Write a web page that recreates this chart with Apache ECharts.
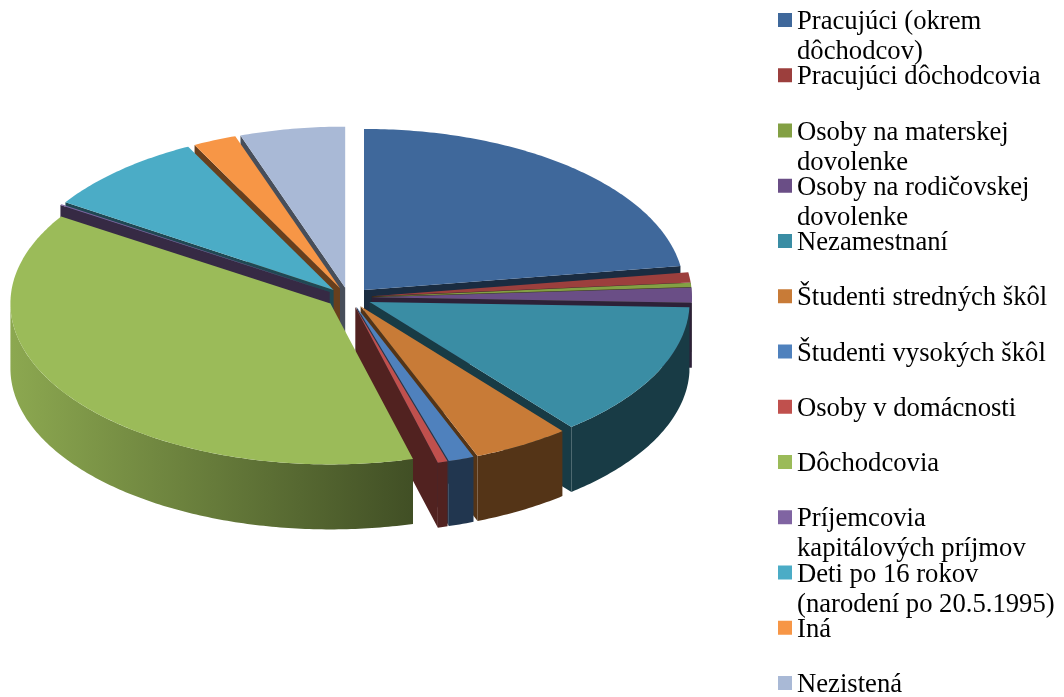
<!DOCTYPE html>
<html>
<head>
<meta charset="utf-8">
<style>html,body{margin:0;padding:0;background:#fff}#c{width:1064px;height:697px}</style>
<script src="https://cdn.jsdelivr.net/npm/echarts@6/dist/echarts.min.js"></script>
</head>
<body>
<div id="c"></div>
<script>
// Legend labels, with the line breaks used in the reference
const categories = [
  "Pracujúci (okrem\ndôchodcov)", "Pracujúci dôchodcovia", "Osoby na materskej\ndovolenke",
  "Osoby na rodičovskej\ndovolenke", "Nezamestnaní", "Študenti stredných škôl",
  "Študenti vysokých škôl", "Osoby v domácnosti", "Dôchodcovia",
  "Príjemcovia\nkapitálových príjmov", "Deti po 16 rokov\n(narodení po 20.5.1995)", "Iná", "Nezistená"
];
// Shares in percent
const values = [22.6, 1.0, 0.4, 1.5, 13.6, 4.9, 1.3, 0.5, 38.2, 0.1, 8.3, 2.2, 5.3];
const colors = ["#3F689B","#9C3F3D","#83A044","#6A4E86","#3A8DA4","#C87B37","#4F81BD","#C0504D","#9BBB59","#8064A2","#4BACC6","#F79646","#A9B9D6"];
// Paint order, back to front
const paintOrder = [12,11,10,9,0,1,2,3,4,5,6,7,8];

const cx=349, cy=297.5, rx=320, ry=161, depth=65, explodeX=23, explodeY=10;
const total = values.reduce((a,b)=>a+b,0);
const RAD = Math.PI/180;

function shade(hex,f){
  const n=parseInt(hex.slice(1),16);
  const c=[n>>16,(n>>8)&255,n&255].map(v=>Math.round(v*f));
  return `rgb(${c[0]},${c[1]},${c[2]})`;
}
function wallFactor(x){ return x<413 ? 0.9-0.42*(x-11)/402 : 0.42; }

function makeRender(i){
  const color = colors[i];
  const before = values.slice(0,i).reduce((a,b)=>a+b,0);
  return function(params,api){
    const a0 = before/total*360;
    const a1 = a0 + api.value(0)/total*360;
    const mid = (a0+a1)/2*RAD;
    const ox = cx+explodeX*Math.sin(mid), oy = cy-explodeY*Math.cos(mid);
    const rim = a => [ox+rx*Math.sin(a*RAD), oy-ry*Math.cos(a*RAD)];
    const arc = (s,e)=>{ const p=[],n=Math.max(2,Math.ceil((e-s)/0.75)); for(let k=0;k<=n;k++) p.push(rim(s+(e-s)*k/n)); return p; };
    const down = p => [p[0],p[1]+depth];
    const children=[];
    const radial = a => { const r=rim(a); children.push({type:'polygon',silent:true,shape:{points:[[ox,oy],r,down(r),[ox,oy+depth]]},style:{fill:shade(color,0.42)}}); };
    if(Math.sin(a0*RAD)<-1e-6) radial(a0);
    if(Math.sin(a1*RAD)>1e-6) radial(a1);
    const s=Math.max(a0,90), e=Math.min(a1,270);
    if(e>s){
      const top=arc(s,e), pts=top.concat(top.slice().reverse().map(down));
      const xs=top.map(p=>p[0]), x0=Math.min(...xs), x1=Math.max(...xs);
      children.push({type:'polygon',silent:true,shape:{points:pts},style:{fill:{type:'linear',global:true,x:x0,y:0,x2:x1+0.01,y2:0,
        colorStops:[{offset:0,color:shade(color,wallFactor(x0))},{offset:1,color:shade(color,wallFactor(x1))}]}}});
    }
    children.push({type:'polygon',silent:true,shape:{points:[[ox,oy]].concat(arc(a0,a1))},style:{fill:color}});
    return {type:'group',children};
  };
}

const series = categories.map((name,i)=>({
  type:'custom', name, coordinateSystem:'none', z:2+paintOrder.indexOf(i),
  itemStyle:{color:colors[i]}, data:[[values[i]]], renderItem:makeRender(i), animation:false, silent:true
}));

const chart = echarts.init(document.getElementById('c'),null,{renderer:'canvas'});
chart.setOption({
  animation:false,
  backgroundColor:'#fff',
  legend:{
    orient:'vertical', left:778, top:-27, height:1400, padding:0,
    icon:'rect', itemWidth:14, itemHeight:14, itemGap:-38.75, selectedMode:false,
    align:'left',
    formatter: n => "{pad|\u00a0}\n"+(n.indexOf("\n")>=0 ? n : n+"\n\u00a0"),
    textStyle:{fontFamily:'"Liberation Serif"',fontSize:26.67,lineHeight:30,color:'#000',
      rich:{pad:{fontFamily:'"Liberation Serif"',fontSize:26.67,lineHeight:34}}},
    data:categories
  },
  series
});
</script>
</body>
</html>
